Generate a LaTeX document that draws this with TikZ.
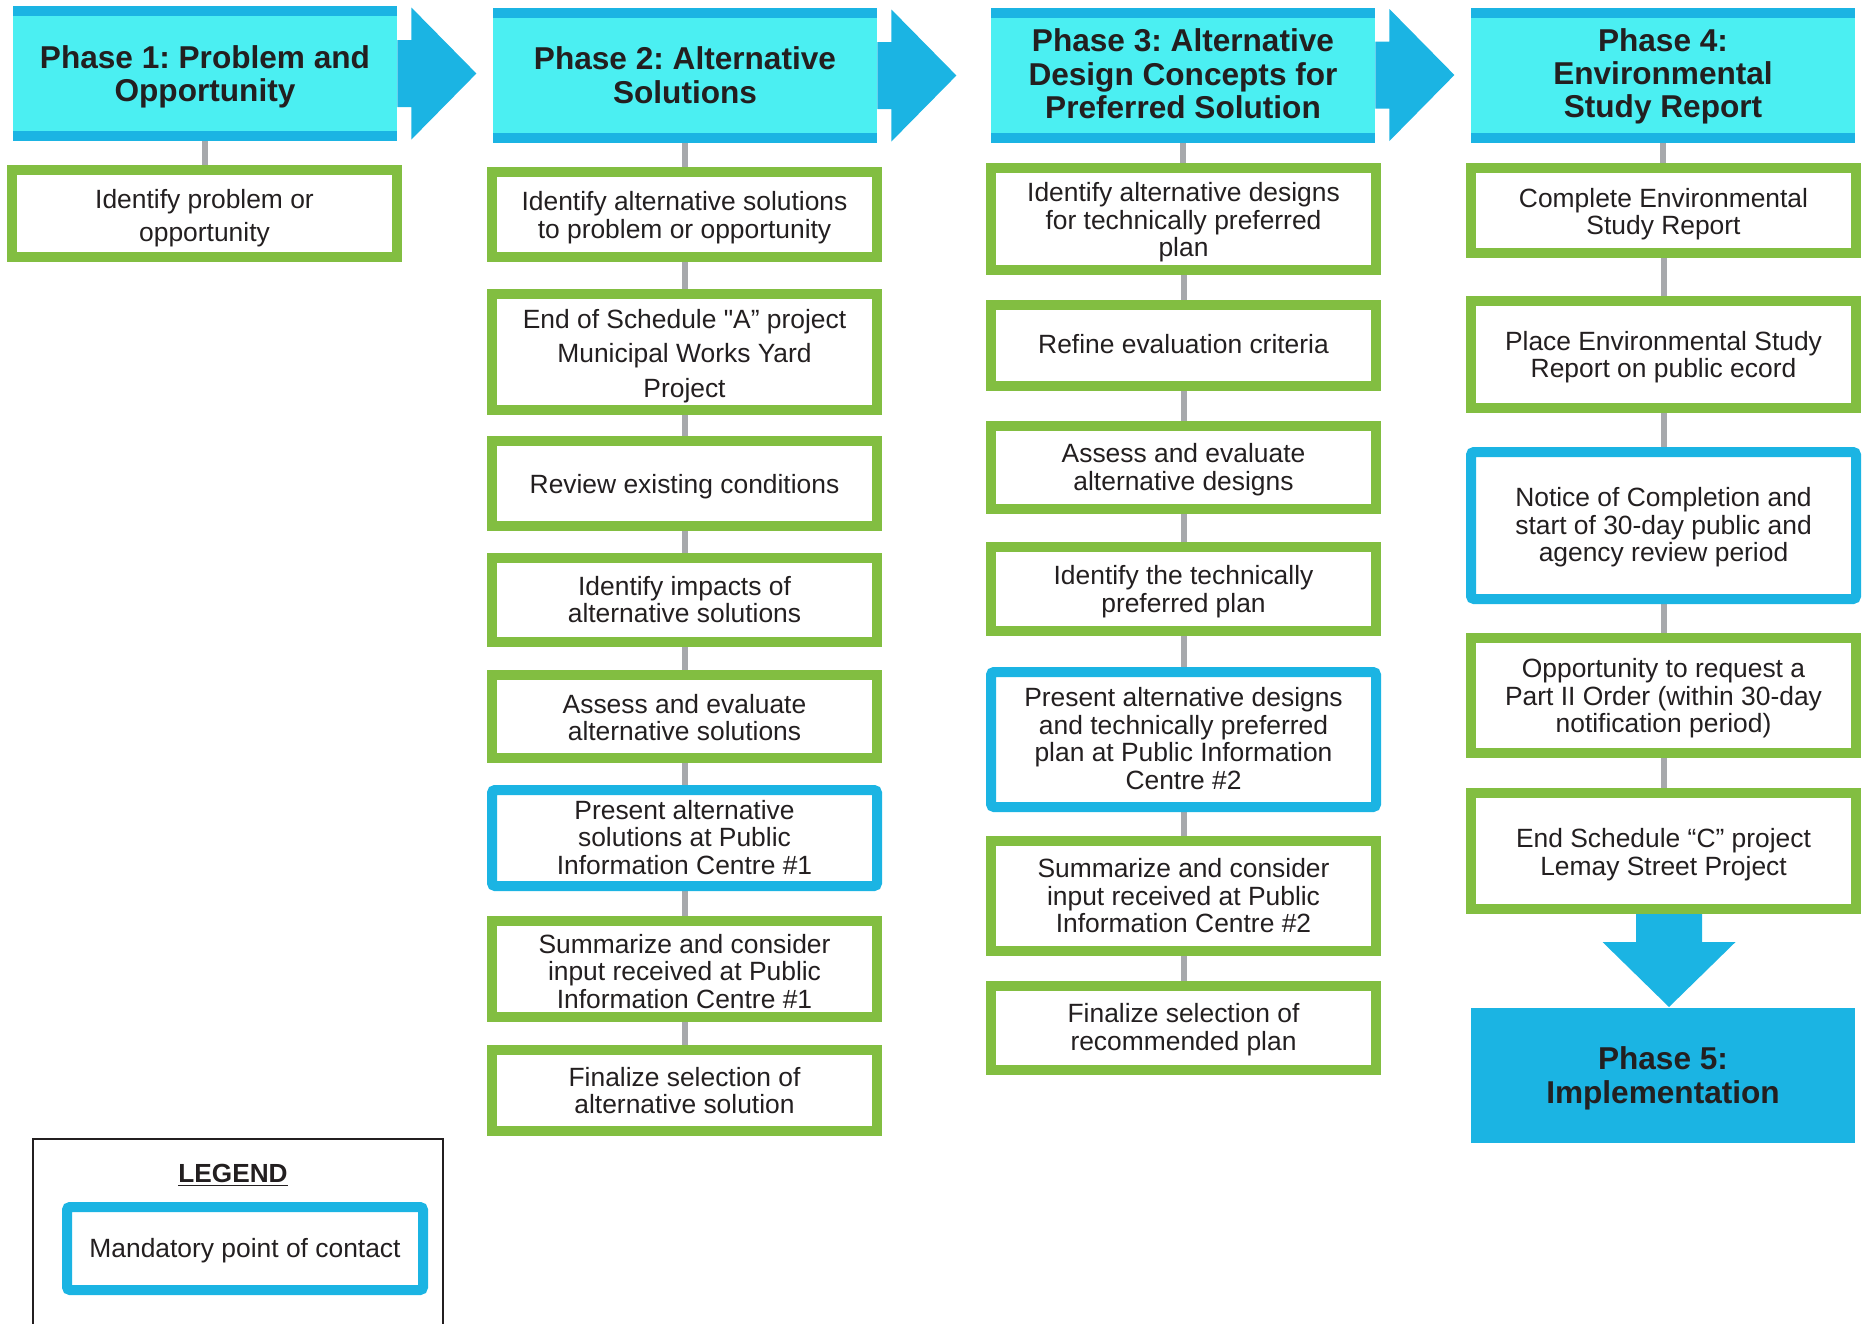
\documentclass[tikz,border=0pt]{standalone}
\usepackage{fontspec}
\setmainfont{Liberation Sans}
\newfontfamily\quotefont{Liberation Sans}
\usetikzlibrary{calc,backgrounds}

\definecolor{headcyan}{RGB}{75,239,242}
\definecolor{stripeblue}{RGB}{27,180,227}
\definecolor{stepgreen}{RGB}{130,190,65}
\definecolor{linkgray}{RGB}{167,169,172}
\definecolor{ink}{RGB}{35,31,32}

\newcommand\stepfont{\fontsize{13.2}{13.8}\selectfont}
\newcommand\phasefont{\fontsize{15.8}{16.7}\selectfont\bfseries}
% lines of a box, set on struts; extra room on top pushes them down a little
\newcommand\steplines[2][2pt]{\raisebox{0pt}[\dimexpr\height+#1+#1\relax][\depth]{\begin{tabular}{@{}c@{}}#2\end{tabular}}}

\tikzset{
  stepbox/.style={draw=stepgreen, line width=5pt, fill=white, minimum width=192.5pt,
    inner sep=0pt, text=ink, font=\stepfont},
  contactbox/.style={stepbox, draw=stripeblue, rounded corners=1.5pt},
  phasehead/.style={fill=headcyan, minimum width=192pt, minimum height=67.5pt,
    inner sep=0pt, text=ink, font=\phasefont,
    path picture={
      \fill[stripeblue] (path picture bounding box.north west) rectangle ([yshift=-5pt]path picture bounding box.north east);
      \fill[stripeblue] (path picture bounding box.south west) rectangle ([yshift=5pt]path picture bounding box.south east);
    }},
  phaseend/.style={fill=stripeblue, minimum width=192pt, minimum height=67.5pt,
    inner sep=0pt, text=ink, font=\phasefont},
  steplink/.style={draw=linkgray, line width=3pt},
}

\begin{document}
\frenchspacing
\begin{tikzpicture}[x=0.5pt,y=-0.5pt]
  \useasboundingbox (0,0) rectangle (1862,1323);

  % Phase headers
  \node[phasehead] (h1) at (205,73.5) {\steplines[2.4pt]{Phase 1: Problem and\\Opportunity}};
  \node[phasehead] (h2) at (685,75.5) {\steplines[2.1pt]{Phase 2: Alternative\\Solutions}};
  \node[phasehead] (h3) at (1183,75) {\steplines[1.8pt]{Phase 3: Alternative\\Design Concepts for\\Preferred Solution}};
  \node[phasehead] (h4) at (1663,75.5) {\steplines[1.2pt]{Phase 4:\\Environmental\\Study Report}};

  % arrows between the headers
  \foreach \a in {1,2,3}
    \fill[stripeblue] ($(h\a.east)+(0,-33.5)$) -- ++(14,0) -- ++(0,-32.5) -- ++(65,66)
      -- ++(-65,66) -- ++(0,-32.5) -- ++(-14,0) -- cycle;

  % Phase 1
  \node[stepbox, minimum height=43.5pt] (p1s1) at (204.5,213.5) {\steplines[3pt]{Identify problem or\\[2.6pt]opportunity}};

  % Phase 2
  \node[stepbox, minimum height=42.5pt] (p2s1) at (684.5,214.5) {\steplines[2.1pt]{Identify alternative solutions\\to problem or opportunity}};
  \node[stepbox, minimum height=58pt] (p2s2) at (684.5,352) {\steplines[2.7pt]{End of Schedule {\quotefont"}A” project\\[3.4pt]Municipal Works Yard\\[3.4pt]Project}};
  \node[stepbox, minimum height=42.5pt] (p2s3) at (684.5,483.5) {\steplines[2.4pt]{Review existing conditions}};
  \node[stepbox, minimum height=42pt] (p2s4) at (684.5,600) {\steplines[1.8pt]{Identify impacts of\\alternative solutions}};
  \node[stepbox, minimum height=41.5pt] (p2s5) at (684.5,716.5) {\steplines[2.4pt]{Assess and evaluate\\alternative solutions}};
  \node[contactbox, minimum height=48pt] (p2s6) at (684.5,838) {\steplines[1.6pt]{Present alternative\\solutions at Public\\Information Centre \#1}};
  \node[stepbox, minimum height=44.5pt] (p2s7) at (684.5,968.5) {\steplines[3.3pt]{Summarize and consider\\input received at Public\\Information Centre \#1}};
  \node[stepbox, minimum height=40.5pt] (p2s8) at (684.5,1090.5) {\steplines{Finalize selection of\\alternative solution}};

  % Phase 3
  \node[stepbox, minimum height=51pt] (p3s1) at (1183.5,219) {\steplines[2.4pt]{Identify alternative designs\\for technically preferred\\plan}};
  \node[stepbox, minimum height=40.5pt] (p3s2) at (1183.5,345.5) {\steplines[1.2pt]{Refine evaluation criteria}};
  \node[stepbox, minimum height=41.5pt] (p3s3) at (1183.5,467.5) {\steplines[1.8pt]{Assess and evaluate\\alternative designs}};
  \node[stepbox, minimum height=42pt] (p3s4) at (1183.5,589) {\steplines{Identify the technically\\preferred plan}};
  \node[contactbox, minimum height=67.5pt] (p3s5) at (1183.5,739.5) {\steplines[1.4pt]{Present alternative designs\\and technically preferred\\plan at Public Information\\Centre \#2}};
  \node[stepbox, minimum height=55pt] (p3s6) at (1183.5,896) {\steplines[1.8pt]{Summarize and consider\\input received at Public\\Information Centre \#2}};
  \node[stepbox, minimum height=42pt] (p3s7) at (1183.5,1028) {\steplines[1.5pt]{Finalize selection of\\recommended plan}};

  % Phase 4
  \node[stepbox, minimum height=42.5pt] (p4s1) at (1663.5,210.5) {\steplines[2.4pt]{Complete Environmental\\Study Report}};
  \node[stepbox, minimum height=53.5pt] (p4s2) at (1663.5,354.5) {\steplines{Place Environmental Study\\Report on public ecord}};
  \node[contactbox, minimum height=73.5pt] (p4s3) at (1663.5,525.5) {\steplines[1.6pt]{Notice of Completion and\\start of 30-day public and\\agency review period}};
  \node[stepbox, minimum height=57.5pt] (p4s4) at (1663.5,695.5) {\steplines{Opportunity to request a\\Part II Order (within 30-day\\notification period)}};
  \node[stepbox, minimum height=58pt] (p4s5) at (1663.5,851) {\steplines[2.4pt]{End Schedule “C” project\\Lemay Street Project}};

  % Phase 5
  \node[phaseend] (h5) at (1663,1075.5) {\steplines[2.1pt]{Phase 5:\\Implementation}};

  \begin{scope}[on background layer]
    \foreach \a/\b in {h1/p1s1,
        h2/p2s1, p2s1/p2s2, p2s2/p2s3, p2s3/p2s4, p2s4/p2s5, p2s5/p2s6, p2s6/p2s7, p2s7/p2s8,
        h3/p3s1, p3s1/p3s2, p3s2/p3s3, p3s3/p3s4, p3s4/p3s5, p3s5/p3s6, p3s6/p3s7,
        h4/p4s1, p4s1/p4s2, p4s2/p4s3, p4s3/p4s4, p4s4/p4s5}
      \draw[steplink] (\a.south) -- (\a.south |- \b.north);
    % down arrow to phase 5
    \fill[stripeblue] ($(p4s5.south)+(-27.5,0)$) -- ++(0,28) -- ++(-33.5,0) -- ++(66.5,65)
      -- ++(66.5,-65) -- ++(-33.5,0) -- ++(0,-28) -- cycle;
  \end{scope}

  % Legend
  \draw[ink, line width=1pt] (33,1340) -- (33,1139) -- (443,1139) -- (443,1340);
  \node[font=\fontsize{13.1}{14}\selectfont\bfseries, text=ink] (legtitle) at (233,1175) {\underline{LEGEND}};
  \node[contactbox, minimum width=178pt, minimum height=41.5pt] (legbox) at (245,1248.5) {\steplines[1.8pt]{Mandatory point of contact}};
\end{tikzpicture}
\end{document}
